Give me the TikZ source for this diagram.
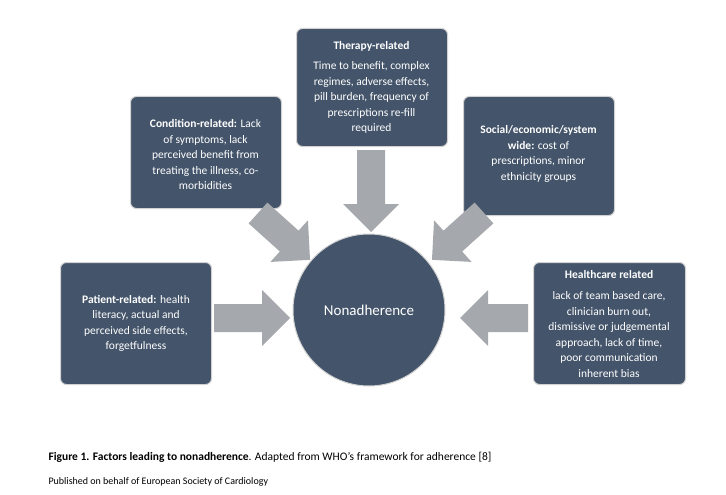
\documentclass[tikz,border=0pt]{standalone}
\usepackage{fontspec}
\setmainfont{Carlito}
\begin{document}
\begin{tikzpicture}[x=1pt,y=-1pt,
  box/.style={draw=gray!35,line width=1pt,fill=boxc,rounded corners=6pt,text=white,align=center,font=\fontsize{11.5}{15.5}\selectfont,inner sep=4pt},
  arr/.style={fill=arrc,draw=none}]
\definecolor{boxc}{HTML}{44546A}
\definecolor{arrc}{HTML}{A5A8AC}
\useasboundingbox (0,0) rectangle (726,495);
\fill[white] (0,0) rectangle (726,495);
\newcommand\blockarr[4]{% x,y,angle,length
  \fill[arrc,shift={(#1,#2)},rotate=#3] (0,-14) -- (#4-28,-14) -- (#4-28,-28) -- (#4,0) -- (#4-28,28) -- (#4-28,14) -- (0,14) -- cycle;}
\node[circle,fill=boxc,draw=gray!35,line width=1pt,minimum size=152pt,text=white,font=\fontsize{15}{18}\selectfont] (c) at (369,310) {Nonadherence};
\node[box,minimum width=151pt,minimum height=118pt,anchor=north west] (t) at (296,28) {};
\node[anchor=north,text=white,font=\bfseries\fontsize{11.5}{15.5}\selectfont] (tt) at (371.5,38) {Therapy-related};
\node[anchor=north,text=white,align=center,font=\fontsize{11.5}{15.5}\selectfont] (tb) at (371.5,58) {Time to benefit, complex\\regimes, adverse effects,\\pill burden, frequency of\\prescriptions re-fill\\required};
\node[box,minimum width=151pt,minimum height=112pt,anchor=north west] (cr) at (130,96) {};
\node[anchor=north,text=white,align=center,font=\fontsize{11.5}{15.5}\selectfont] (crt) at (205.5,116) {\textbf{Condition-related:} Lack\\of symptoms, lack\\perceived benefit from\\treating the illness, co-\\morbidities};
\node[box,minimum width=151pt,minimum height=119pt,anchor=north west] (s) at (463,96) {};
\node[anchor=north,text=white,align=center,font=\fontsize{11.5}{15.5}\selectfont] (st) at (538.5,122) {\textbf{Social/economic/system}\\\textbf{wide:} cost of\\prescriptions, minor\\ethnicity groups};
\node[box,minimum width=151pt,minimum height=122pt,anchor=north west] (p) at (60,262) {\textbf{Patient-related:} health\\literacy, actual and\\perceived side effects,\\forgetfulness};
\node[box,minimum width=152pt,minimum height=122pt,anchor=north west] (h) at (533,262) {};
\node[anchor=north,text=white,font=\bfseries\fontsize{11.5}{15.5}\selectfont] (ht) at (609,267) {Healthcare related};
\node[anchor=north,text=white,align=center,font=\fontsize{11.5}{15.5}\selectfont] (hb) at (609,288) {lack of team based care,\\clinician burn out,\\dismissive or judgemental\\approach, lack of time,\\poor communication\\inherent bias};
\blockarr{371}{150}{-90}{82}
\blockarr{258}{213}{-42}{70}
\blockarr{484}{213}{-138}{70}
\blockarr{214}{318}{0}{76}
\blockarr{528}{318}{180}{68}
\node[anchor=west,font=\fontsize{11.5}{13}\selectfont] (cap) at (45,457) {\textbf{Figure 1. Factors leading to nonadherence}. Adapted from WHO’s framework for adherence [8]};
\node[anchor=west,font=\fontsize{10}{12}\selectfont] (pub) at (45,482) {Published on behalf of European Society of Cardiology};
\end{tikzpicture}
\end{document}
